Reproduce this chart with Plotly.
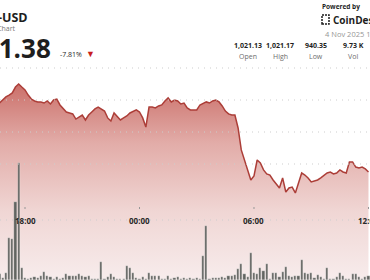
import plotly.graph_objects as go
import pandas as pd

# ---- data ----
start_time = "2025-11-03 16:40"
prices = [
    998.1, 1000.0, 1001.9, 1003.1, 1004.4, 1008.1, 1010.0, 1008.1, 1006.3, 1003.1,
    1000.6, 999.4, 998.8, 998.8, 998.1, 999.4, 997.5, 1000.0, 1000.6, 996.9,
    994.4, 992.5, 991.9, 991.3, 988.1, 989.4, 990.6, 987.5, 990.6, 992.5,
    994.4, 995.6, 994.4, 993.1, 988.8, 986.9, 991.9, 989.4, 987.5, 988.8,
    990.0, 991.9, 993.1, 993.8, 992.5, 988.8, 983.1, 995.6, 995.6, 995.0,
    996.3, 996.9, 999.4, 1001.3, 998.8, 1000.0, 999.4, 997.5, 998.1, 995.0,
    993.8, 993.8, 993.8, 996.9, 998.1, 998.8, 998.1, 999.4, 1000.0, 998.8,
    996.3, 993.1, 991.3, 990.6, 990.6, 982.5, 968.8, 962.5, 955.0, 950.0,
    952.5, 962.5, 960.6, 956.3, 953.8, 953.1, 950.0, 947.5, 945.0, 951.3,
    942.5, 945.0, 945.6, 941.9, 948.8, 954.4, 953.1, 951.3, 948.8, 949.4,
    950.0, 951.3, 953.1, 954.4, 955.0, 953.8, 954.4, 956.3, 955.0, 954.4,
    961.3, 961.3, 958.1, 957.5, 958.1, 956.9, 955.0,
]
volumes = [
    6, 2, 7, 42, 41, 78, 117, 12, 2, 1,
    2, 3, 2, 4, 8, 4, 3, 1, 3, 1,
    2, 6, 4, 4, 4, 6, 4, 3, 4, 1,
    1, 1, 18, 1, 3, 6, 3, 1, 1, 1,
    14, 12, 7, 2, 1, 3, 1, 7, 4, 4,
    4, 1, 1, 4, 1, 2, 3, 1, 2, 1,
    2, 1, 2, 1, 24, 54, 1, 2, 2, 2,
    3, 2, 4, 4, 5, 11, 16, 6, 3, 27,
    7, 6, 12, 9, 16, 1, 7, 7, 3, 8,
    13, 4, 3, 4, 4, 20, 7, 6, 7, 2,
    5, 3, 1, 12, 1, 1, 3, 7, 4, 1,
    1, 6, 6, 3, 1, 3, 4,
]
tick_times = ["2025-11-03 18:00", "2025-11-04 00:00", "2025-11-04 06:00", "2025-11-04 12:00"]
tick_labels = ["18:00", "00:00", "06:00", "12:00"]
grid_levels = [925, 960, 980, 1000, 1020]
stat_values = ["1,021.13", "1,021.17", "940.35", "9.73 K"]
stat_names = ["Open", "High", "Low", "Vol"]

times = pd.date_range(start_time, periods=len(prices), freq="10min")

W, H = 370, 280
TOP = 60
Y_RANGE = [887.5, 1025]
X_RANGE = ["2025-11-03 16:41:24", "2025-11-04 12:04:45"]


def py(pix):
    return 1 - (pix - TOP) / (H - TOP)


def pxx(pix):
    return pix / W


FONT = "Open Sans"

fig = go.Figure()
fig.add_trace(go.Scatter(
    x=times, y=prices, mode="lines",
    line=dict(color="rgb(172,62,56)", width=1.5),
    fill="tozeroy",
    fillgradient=dict(
        type="vertical", start=Y_RANGE[0], stop=1010,
        colorscale=[[0, "rgb(247,236,236)"], [0.35, "rgb(240,214,212)"],
                    [0.7, "rgb(226,172,168)"], [1, "rgb(203,112,106)"]],
    ),
    hoverinfo="skip", showlegend=False,
))
fig.add_trace(go.Bar(
    x=times, y=volumes, yaxis="y2",
    width=0.68 * 600000,
    marker=dict(color="rgb(98,101,97)", line=dict(color="rgba(255,255,255,0.6)", width=0.4)),
    hoverinfo="skip", showlegend=False,
))

shapes = []
for g in grid_levels:
    shapes.append(dict(type="line", xref="paper", yref="y", x0=0, x1=1, y0=g, y1=g,
                       line=dict(color="rgb(205,205,205)", width=1, dash="1px,5px"), layer="above"))
for t in tick_times:
    shapes.append(dict(type="line", xref="x", yref="paper", x0=t, x1=t, y0=py(209), y1=py(207),
                       line=dict(color="rgb(150,150,150)", width=1), layer="above"))
# CoinDesk icon
shapes.append(dict(type="rect", xref="paper", yref="paper", x0=pxx(322), x1=pxx(329), y0=py(24), y1=py(15),
                   line=dict(color="rgb(30,30,30)", width=1.5, dash="2px,1px")))

ann = []
for t, lab in zip(tick_times, tick_labels):
    ann.append(dict(x=t, xref="x", y=py(220), yref="paper", text="<b>" + lab + "</b>",
                    showarrow=False, xanchor="center", yanchor="middle",
                    font=dict(family=FONT, size=8, color="rgb(40,40,40)")))


def txt(x, y, s, size, color="rgb(30,30,30)", xanchor="left"):
    ann.append(dict(x=pxx(x), y=py(y), xref="paper", yref="paper", text=s, showarrow=False,
                    xanchor=xanchor, yanchor="middle", font=dict(family=FONT, size=size, color=color)))


txt(30, 17.5, "<b>BNB-USD</b>", 12.5, xanchor="right")
txt(18, 28.5, "BNB Chart", 7, color="rgb(120,120,120)", xanchor="right")
txt(53, 48, "<b>941.38</b>", 26, xanchor="right")
txt(58, 54.5, "-7.81%", 7, color="rgb(40,40,40)")
txt(84, 54, "▼", 9, color="rgb(200,30,30)")
txt(320, 7, "<b>Powered by</b>", 6.5)
txt(331, 19.5, "<b>CoinDesk</b>", 10)
txt(323, 34, "4 Nov 2025 14:00", 7.5, color="rgb(150,150,150)")
for cx, v, n in zip([248, 280, 316, 353], stat_values, stat_names):
    txt(cx, 45, "<b>" + v + "</b>", 7, xanchor="center")
    txt(cx, 56, n, 7, color="rgb(110,110,110)", xanchor="center")

fig.update_layout(
    width=W, height=H,
    margin=dict(l=0, r=0, t=TOP, b=0, pad=0),
    paper_bgcolor="white", plot_bgcolor="white",
    xaxis=dict(range=X_RANGE, type="date", visible=False),
    yaxis=dict(range=Y_RANGE, visible=False),
    yaxis2=dict(range=[0, H - TOP], overlaying="y", visible=False),
    bargap=0,
    shapes=shapes, annotations=ann,
    showlegend=False,
)

fig.write_html("out.html", config={"displayModeBar": False})
